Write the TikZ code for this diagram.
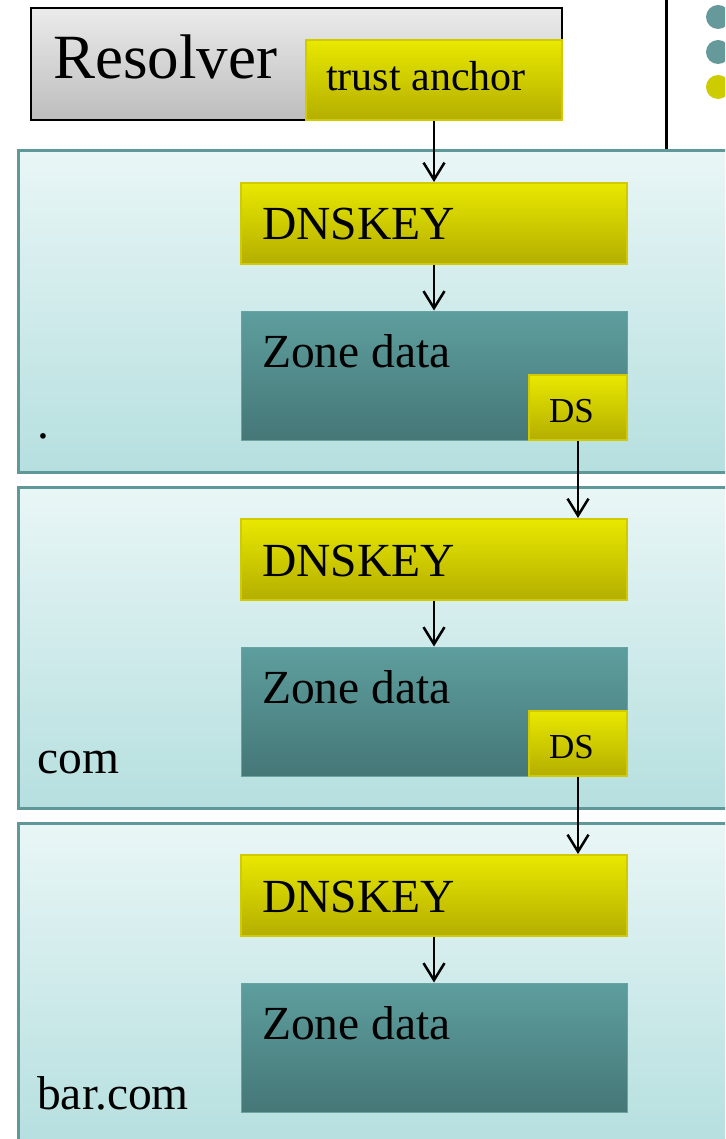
\documentclass[tikz,border=0pt]{standalone}
\usepackage{fontspec}
\setmainfont{Liberation Serif}
\usetikzlibrary{arrows.meta}
\definecolor{zonetop}{HTML}{E9F6F6}
\definecolor{zonebot}{HTML}{B6DFDF}
\definecolor{zoneline}{HTML}{5F9898}
\definecolor{yeltop}{HTML}{E8E800}
\definecolor{yelbot}{HTML}{B4AE00}
\definecolor{yelline}{HTML}{D2CA00}
\definecolor{datatop}{HTML}{5E9E9E}
\definecolor{databot}{HTML}{457777}
\definecolor{dataline}{HTML}{6AA3A3}
\definecolor{greytop}{HTML}{EBEBEB}
\definecolor{greybot}{HTML}{BDBDBD}
\definecolor{dotteal}{HTML}{669999}
\definecolor{dotyel}{HTML}{CCCC00}
\begin{document}
\begin{tikzpicture}[x=1pt,y=-1pt,
  zonebox/.style={draw=zoneline, line width=3pt, top color=zonetop, bottom color=zonebot, minimum width=722pt, minimum height=321pt, inner sep=0pt},
  yelbox/.style={draw=yelline, line width=2pt, top color=yeltop, bottom color=yelbot, inner sep=0pt},
  databox/.style={draw=dataline, line width=1pt, top color=datatop, bottom color=databot, minimum width=386pt, minimum height=129pt, inner sep=0pt},
  keybox/.style={yelbox, minimum width=386pt, minimum height=81pt},
  dsbox/.style={yelbox, minimum width=98pt, minimum height=65pt},
  bigtxt/.style={inner sep=0pt, anchor=base west, font=\fontsize{47.5}{50}\selectfont},
  dstxt/.style={inner sep=0pt, anchor=base, font=\fontsize{35}{38}\selectfont},
  arr/.style={-{Straight Barb[length=17pt,width=21pt]}, line width=2.5pt, black},
  dot/.style={circle, inner sep=0pt, minimum size=24pt}]
\useasboundingbox (0,0) rectangle (725,1139);
\clip (0,0) rectangle (725,1139);
% resolver
\node[draw=black, line width=1.5pt, top color=greytop, bottom color=greybot, minimum width=531pt, minimum height=112pt, inner sep=0pt] (res) at (296.5,64) {};
\node[inner sep=0pt, anchor=base west, font=\fontsize{63}{66}\selectfont] (restxt) at (53,79) {Resolver};
\node[yelbox, minimum width=256pt, minimum height=80pt] (ta) at (434,80) {};
\node[inner sep=0pt, anchor=base west, font=\fontsize{42}{45}\selectfont] (tatxt) at (326,91) {trust anchor};
% divider and bullets
\coordinate (vtop) at (666,0);
\node[dot, fill=dotteal] (b1) at (718,17) {};
\node[dot, fill=dotteal] (b2) at (718,52) {};
\node[dot, fill=dotyel] (b3) at (718,87) {};
% zones
\node[zonebox] (z1) at (379,311.5) {};
\node[zonebox] (z2) at (379,647.5) {};
\node[zonebox] (z3) at (379,983.5) {};
\draw[line width=3pt] (vtop) -- (vtop |- z1.north);
% zone 1
\node[keybox] (k1) at (434,223.5) {};
\node[bigtxt] (k1t) at (262,240) {DNSKEY};
\node[databox] (d1) at (434,375.5) {};
\node[bigtxt] (d1t) at (262,367) {Zone data};
\node[dsbox] (s1) at (578,407.5) {};
\node[dstxt] (s1t) at (571.5,422) {DS};
\node[bigtxt] (l1) at (37,438) {.};
% zone 2
\node[keybox] (k2) at (434,559.5) {};
\node[bigtxt] (k2t) at (262,576) {DNSKEY};
\node[databox] (d2) at (434,711.5) {};
\node[bigtxt] (d2t) at (262,703) {Zone data};
\node[dsbox] (s2) at (578,743.5) {};
\node[dstxt] (s2t) at (571.5,758) {DS};
\node[bigtxt] (l2) at (37,773) {com};
% zone 3
\node[keybox] (k3) at (434,895.5) {};
\node[bigtxt] (k3t) at (262,912) {DNSKEY};
\node[databox] (d3) at (434,1047.5) {};
\node[bigtxt] (d3t) at (262,1039) {Zone data};
\node[bigtxt] (l3) at (37,1109) {bar.com};
% arrows
\draw[arr] (ta.south) -- (k1.north);
\draw[arr] (k1.south) -- (d1.north);
\draw[arr] (s1.south) -- (s1.south |- k2.north);
\draw[arr] (k2.south) -- (d2.north);
\draw[arr] (s2.south) -- (s2.south |- k3.north);
\draw[arr] (k3.south) -- (d3.north);
\end{tikzpicture}
\end{document}
